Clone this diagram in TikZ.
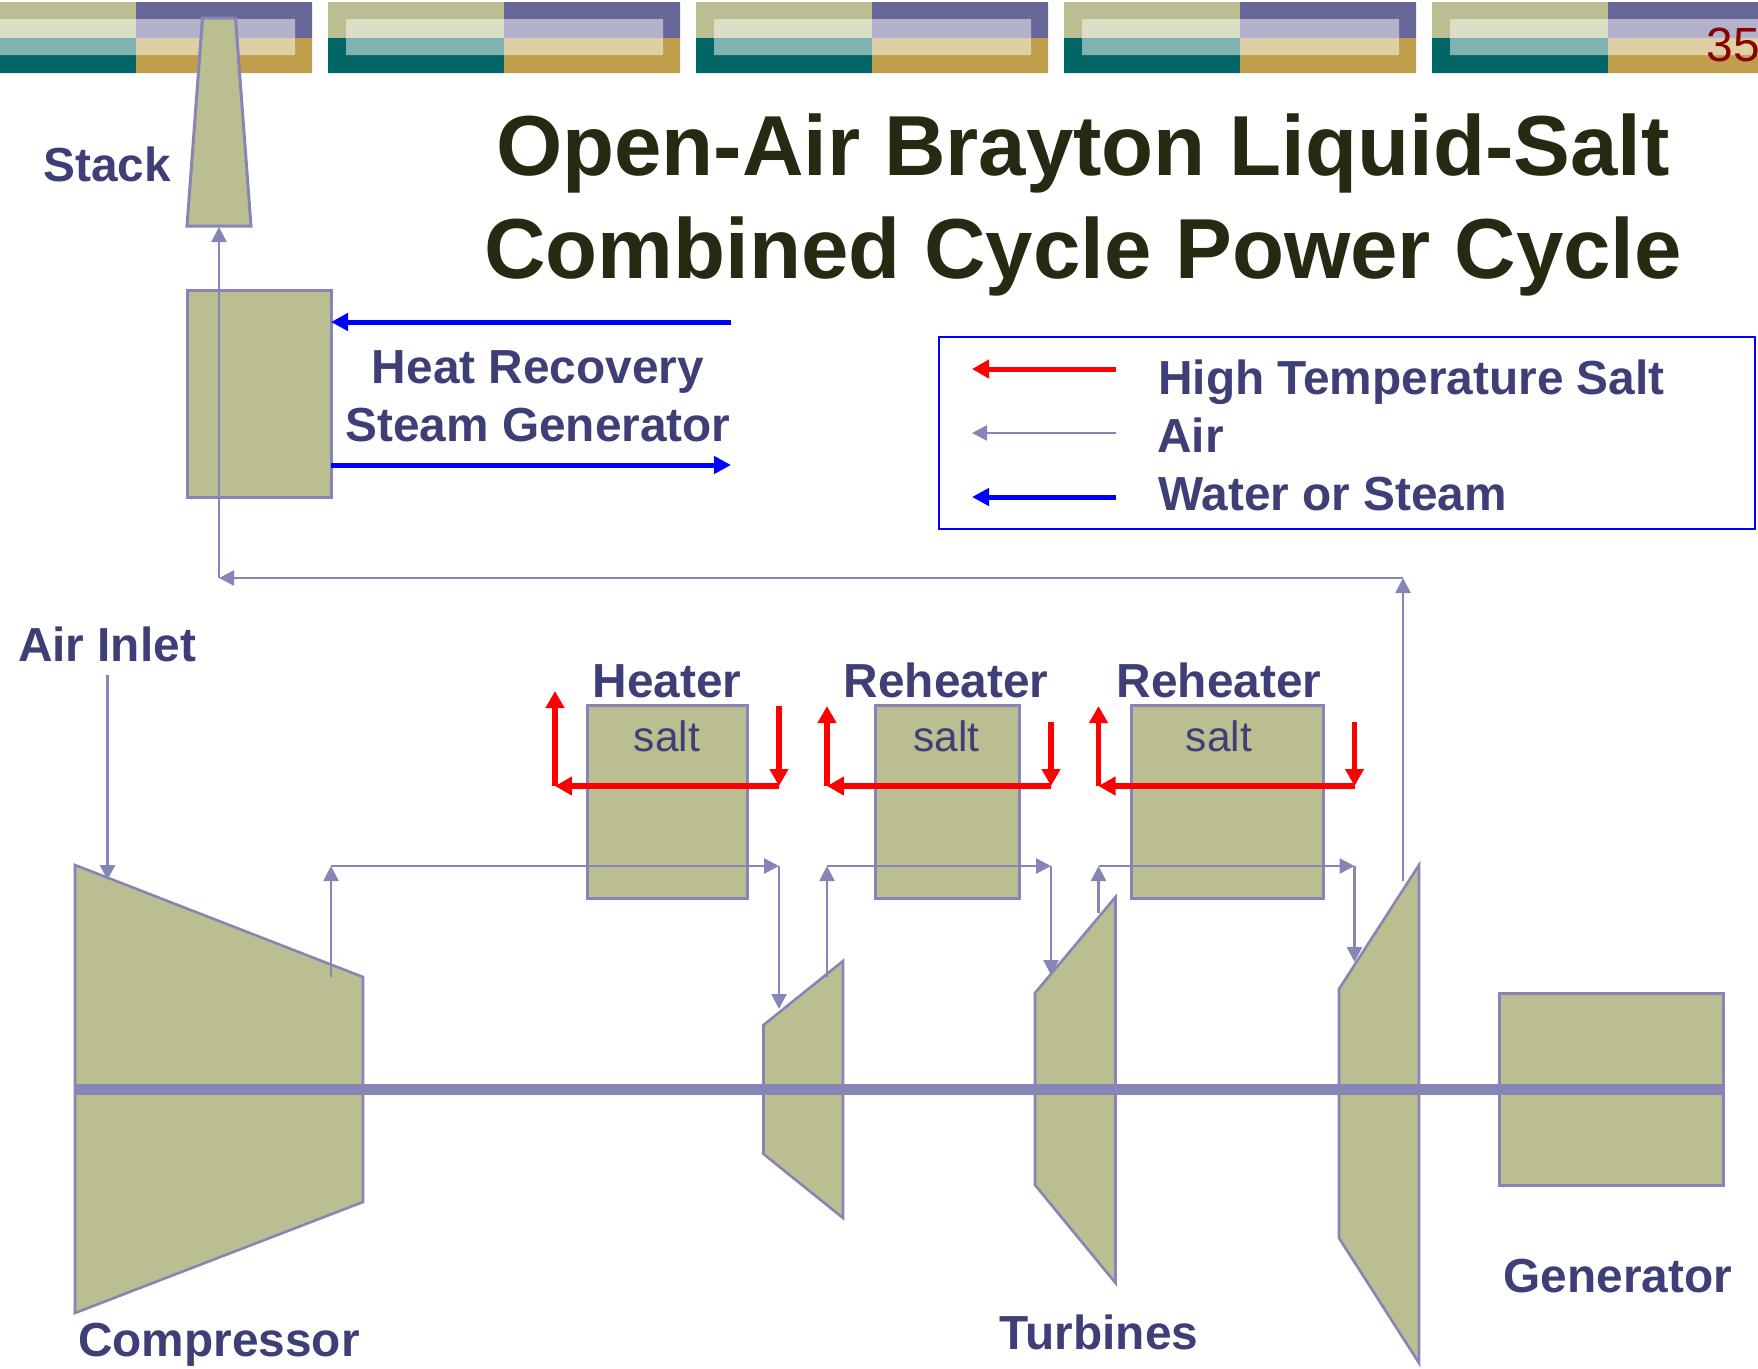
\documentclass[tikz,border=0pt]{standalone}
\usepackage{fontspec}
\setmainfont{Liberation Sans}
\usetikzlibrary{arrows.meta}
\definecolor{olivefill}{HTML}{BBBE91}
\definecolor{purpleline}{HTML}{8686B6}
\definecolor{bandpurple}{HTML}{666699}
\definecolor{bandteal}{HTML}{006666}
\definecolor{bandgold}{HTML}{C09F4C}
\definecolor{labelblue}{HTML}{3F3F78}
\definecolor{titledark}{HTML}{262A12}
\tikzset{
  unitbox/.style={draw=purpleline, fill=olivefill, line width=3pt, rectangle, inner sep=0pt, outer sep=0pt},
  unitshape/.style={draw=purpleline, fill=olivefill, line width=2.6pt, line join=miter},
  airline/.style={draw=purpleline, line width=2.6pt, -{Triangle[length=15pt,width=15pt]}},
  saltline/.style={draw=red, line width=5.6pt, -{Triangle[length=17pt,width=18pt]}},
  waterline/.style={draw=blue, line width=5pt, -{Triangle[length=17pt,width=17pt]}},
  boldlab/.style={text=labelblue, font=\fontsize{47.8}{58}\selectfont\bfseries, align=center, inner sep=0pt},
  saltlab/.style={text=labelblue, font=\fontsize{42.5}{50}\selectfont, inner sep=0pt},
  titlelab/.style={text=titledark, font=\fontsize{85.2}{102.6}\selectfont\bfseries, align=center, inner sep=0pt}
}
\begin{document}
\begin{tikzpicture}[x=1pt, y=-1pt]
\clip (0,0) rectangle (1758,1368);
\fill[white] (0,0) rectangle (1758,1368);
% header bands
\fill[olivefill] (-40,2) rectangle (136,38) (328,2) rectangle (504,38) (696,2) rectangle (872,38) (1064,2) rectangle (1240,38) (1432,2) rectangle (1608,38);
\fill[bandpurple] (136,2) rectangle (312,38) (504,2) rectangle (680,38) (872,2) rectangle (1048,38) (1240,2) rectangle (1416,38) (1608,2) rectangle (1784,38);
\fill[bandteal] (-40,38) rectangle (136,73) (328,38) rectangle (504,73) (696,38) rectangle (872,73) (1064,38) rectangle (1240,73) (1432,38) rectangle (1608,73);
\fill[bandgold] (136,38) rectangle (312,73) (504,38) rectangle (680,73) (872,38) rectangle (1048,73) (1240,38) rectangle (1416,73) (1608,38) rectangle (1784,73);
\fill[white, opacity=0.5] (-22,19) rectangle (295,55) (346,19) rectangle (663,55) (714,19) rectangle (1031,55) (1082,19) rectangle (1399,55) (1450,19) rectangle (1767,55);
\node[text=red!55!black, font=\fontsize{48}{50}\selectfont, anchor=base east, inner sep=0pt] (page) at (1760,61) {35};
% title
\node[titlelab] (title) at (1083,205) {Open-Air Brayton Liquid-Salt\\Combined Cycle Power Cycle};
% units
\draw[unitshape, line width=3pt] (202.5,18) -- (235.5,18) -- (251,226) -- (187,226) -- cycle;
\node[unitbox, minimum width=144pt, minimum height=207pt] (hrsg) at (259,393.5) {};
\node[unitbox, minimum width=160pt, minimum height=193pt] (heater) at (667,802) {};
\node[unitbox, minimum width=144pt, minimum height=193pt] (reheatA) at (947,802) {};
\node[unitbox, minimum width=192pt, minimum height=193pt] (reheatB) at (1227,802) {};
\draw[unitshape] (75,865) -- (363,977) -- (363,1202) -- (75,1313) -- cycle;
\draw[unitshape] (763.5,1025) -- (843,961) -- (843,1218) -- (763.5,1154) -- cycle;
\draw[unitshape] (1035,993) -- (1115.5,897) -- (1115.5,1283) -- (1035,1185) -- cycle;
\draw[unitshape] (1339,989) -- (1419,865) -- (1419,1363) -- (1339,1238) -- cycle;
\node[unitbox, minimum width=224pt, minimum height=192pt] (gen) at (1611,1089.5) {};
% shaft
\coordinate (shaftL) at (75,1089);
\draw[purpleline, line width=11pt] (shaftL) -- (gen.east |- shaftL);
% points on the air path
\coordinate (inletT) at (107.5,675);
\coordinate (inletB) at (107.5,880);
\coordinate (compOut) at (331,977);
\coordinate (compUp) at (331,866);
\coordinate (heatOut) at (779,866);
\coordinate (turbAin) at (779,1009);
\coordinate (turbAout) at (827,977);
\coordinate (turbAup) at (827,866);
\coordinate (rehAout) at (1051,866);
\coordinate (turbBin) at (1051,975);
\coordinate (turbBout) at (1098.5,913);
\coordinate (turbBup) at (1098.5,866);
\coordinate (rehBout) at (1354.5,866);
\coordinate (turbCin) at (1354.5,962);
\coordinate (turbCout) at (1403,881);
\coordinate (exhR) at (1403,578);
\coordinate (exhL) at (219,578);
\coordinate (stackB) at (219,227);
\draw[airline] (inletT) -- (inletB);
\draw[airline] (compOut) -- (compUp);
\draw[airline] (compUp) -- (heatOut);
\draw[airline] (heatOut) -- (turbAin);
\draw[airline] (turbAout) -- (turbAup);
\draw[airline] (turbAup) -- (rehAout);
\draw[airline] (rehAout) -- (turbBin);
\draw[airline] (turbBout) -- (turbBup);
\draw[airline] (turbBup) -- (rehBout);
\draw[airline] (rehBout) -- (turbCin);
\draw[airline] (turbCout) -- (exhR);
\draw[airline] (exhR) -- (exhL);
\draw[airline] (exhL) -- (stackB);
% salt loops
\coordinate (saltAin) at (779,706);
\coordinate (saltAr) at (779,786);
\coordinate (saltAl) at (555,786);
\coordinate (saltAout) at (555,691);
\coordinate (saltBin) at (1051,722);
\coordinate (saltBr) at (1051,786);
\coordinate (saltBl) at (827,786);
\coordinate (saltBout) at (827,706);
\coordinate (saltCin) at (1354.5,722);
\coordinate (saltCr) at (1354.5,786);
\coordinate (saltCl) at (1098.5,786);
\coordinate (saltCout) at (1098.5,706);
\draw[saltline] (saltAin) -- (saltAr);
\draw[saltline] (saltAr) -- (saltAl);
\draw[saltline] (saltAl) -- (saltAout);
\draw[saltline] (saltBin) -- (saltBr);
\draw[saltline] (saltBr) -- (saltBl);
\draw[saltline] (saltBl) -- (saltBout);
\draw[saltline] (saltCin) -- (saltCr);
\draw[saltline] (saltCr) -- (saltCl);
\draw[saltline] (saltCl) -- (saltCout);
% steam generator water
\coordinate (waterIn) at (731,322);
\coordinate (waterOut) at (731,465);
\draw[waterline] (waterIn) -- (hrsg.east |- waterIn);
\draw[waterline] (hrsg.east |- waterOut) -- (waterOut);
% legend
\node[draw=blue, line width=2.5pt, rectangle, inner sep=0pt, minimum width=816pt, minimum height=192pt] (legend) at (1347,433) {};
\coordinate (keySaltR) at (1116,369);
\coordinate (keySaltL) at (972,369);
\coordinate (keyAirR) at (1116,433);
\coordinate (keyAirL) at (972,433);
\coordinate (keyWaterR) at (1116,497);
\coordinate (keyWaterL) at (972,497);
\draw[saltline, line width=5pt] (keySaltR) -- (keySaltL);
\draw[airline] (keyAirR) -- (keyAirL);
\draw[waterline] (keyWaterR) -- (keyWaterL);
\node[boldlab, anchor=base west] (keySalt) at (1158,394) {High Temperature Salt};
\node[boldlab, anchor=base west] (keyAir) at (1157,452) {Air};
\node[boldlab, anchor=base west] (keyWater) at (1158,510) {Water or Steam};
% labels
\node[boldlab] (stackLab) at (107,164) {Stack};
\node[boldlab] (hrsgLab) at (538,396) {Heat Recovery\\Steam Generator};
\node[boldlab] (inletLab) at (107,644) {Air Inlet};
\node[boldlab, anchor=base] (heaterLab) at (667,697) {Heater};
\node[boldlab, anchor=base] (reheatALab) at (946,697) {Reheater};
\node[boldlab, anchor=base] (reheatBLab) at (1219,697) {Reheater};
\node[saltlab, anchor=base] (saltA) at (667,751) {salt};
\node[saltlab, anchor=base] (saltB) at (946.5,751) {salt};
\node[saltlab, anchor=base] (saltC) at (1219,751) {salt};
\node[boldlab] (compLab) at (219,1345) {Compressor};
\node[boldlab] (turbLab) at (1099,1332) {Turbines};
\node[boldlab] (genLab) at (1618,1276) {Generator};
\end{tikzpicture}
\end{document}
